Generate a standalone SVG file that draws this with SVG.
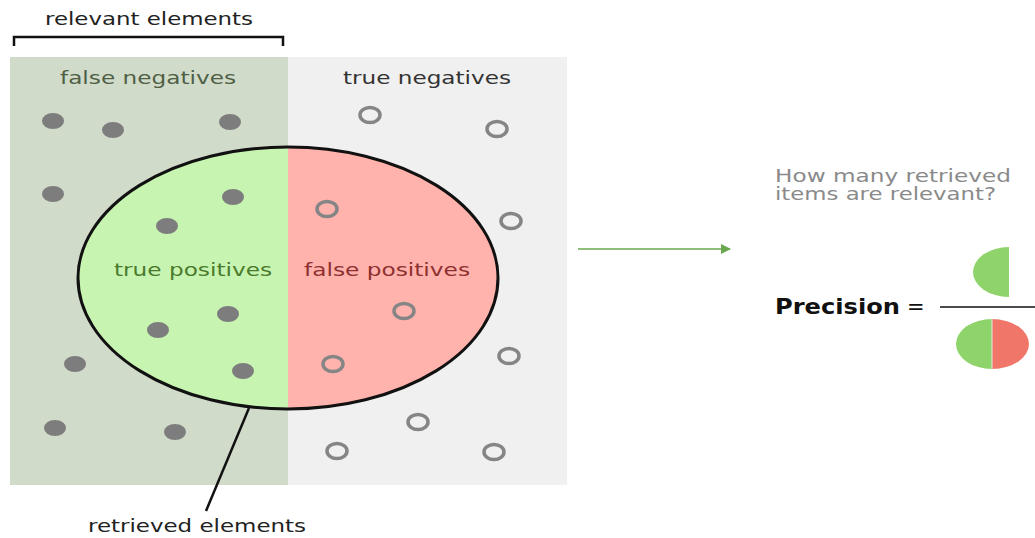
<svg xmlns="http://www.w3.org/2000/svg" width="1035" height="538" viewBox="0 0 1035 538">
<style>
text{font-family:"DejaVu Sans","Liberation Sans",sans-serif}
.lbl{font-size:18px;fill:#222}
.dot{fill:#7d7d7d}
.ring{fill:none;stroke:#858585;stroke-width:3.5}
</style>
<defs>
<marker id="ah" markerWidth="10" markerHeight="10" refX="9" refY="5" orient="auto" markerUnits="userSpaceOnUse"><path d="M0,0 L10,5 L0,10 z" fill="#6aa84f"/></marker>
<clipPath id="lc"><rect x="0" y="0" width="288" height="538"/></clipPath>
<clipPath id="rc"><rect x="288" y="0" width="400" height="538"/></clipPath>
</defs>
<g id="panels">
<rect x="10" y="57" width="278" height="428" fill="#d1dbca"/>
<rect x="288" y="57" width="279" height="428" fill="#f0f0f0"/>
</g>
<g id="bracket">
<path d="M14,46 V37 H283 V46" fill="none" stroke="#111" stroke-width="2.5"/>
<text class="lbl" x="149" y="25" text-anchor="middle" textLength="208" lengthAdjust="spacingAndGlyphs">relevant elements</text>
</g>
<text id="fn" x="148" y="84" text-anchor="middle" font-size="18" fill="#4f5f45" textLength="176" lengthAdjust="spacingAndGlyphs">false negatives</text>
<text id="tn" x="427" y="84" text-anchor="middle" font-size="18" fill="#333" textLength="168" lengthAdjust="spacingAndGlyphs">true negatives</text>
<g id="circle">
<ellipse cx="288" cy="278" rx="210" ry="131" fill="#c8f4b1" clip-path="url(#lc)"/>
<ellipse cx="288" cy="278" rx="210" ry="131" fill="#ffb3ac" clip-path="url(#rc)"/>
<ellipse cx="288" cy="278" rx="210" ry="131" fill="none" stroke="#111" stroke-width="3"/>
<text x="193" y="276" text-anchor="middle" font-size="18" fill="#4a7a2c" textLength="158" lengthAdjust="spacingAndGlyphs">true positives</text>
<text x="387" y="276" text-anchor="middle" font-size="18" fill="#8e3030" textLength="166" lengthAdjust="spacingAndGlyphs">false positives</text>
</g>
<g id="relevant-dots">
<ellipse class="dot" cx="53" cy="121" rx="11" ry="8"/>
<ellipse class="dot" cx="113" cy="130" rx="11" ry="8"/>
<ellipse class="dot" cx="230" cy="122" rx="11" ry="8"/>
<ellipse class="dot" cx="53" cy="194" rx="11" ry="8"/>
<ellipse class="dot" cx="233" cy="197" rx="11" ry="8"/>
<ellipse class="dot" cx="167" cy="226" rx="11" ry="8"/>
<ellipse class="dot" cx="158" cy="330" rx="11" ry="8"/>
<ellipse class="dot" cx="228" cy="314" rx="11" ry="8"/>
<ellipse class="dot" cx="243" cy="371" rx="11" ry="8"/>
<ellipse class="dot" cx="75" cy="364" rx="11" ry="8"/>
<ellipse class="dot" cx="55" cy="428" rx="11" ry="8"/>
<ellipse class="dot" cx="175" cy="432" rx="11" ry="8"/>
</g>
<g id="irrelevant-rings">
<ellipse class="ring" cx="370" cy="115" rx="10" ry="7.5"/>
<ellipse class="ring" cx="497" cy="129" rx="10" ry="7.5"/>
<ellipse class="ring" cx="327" cy="209" rx="10" ry="7.5"/>
<ellipse class="ring" cx="511" cy="221" rx="10" ry="7.5"/>
<ellipse class="ring" cx="404" cy="311" rx="10" ry="7.5"/>
<ellipse class="ring" cx="333" cy="364" rx="10" ry="7.5"/>
<ellipse class="ring" cx="509" cy="356" rx="10" ry="7.5"/>
<ellipse class="ring" cx="418" cy="422" rx="10" ry="7.5"/>
<ellipse class="ring" cx="337" cy="451" rx="10" ry="7.5"/>
<ellipse class="ring" cx="494" cy="452" rx="10" ry="7.5"/>
</g>
<g id="connectors">
<line x1="249" y1="408" x2="206" y2="511" stroke="#111" stroke-width="2.5"/>
<line x1="578" y1="249" x2="730" y2="249" stroke="#6aa84f" stroke-width="1.5" marker-end="url(#ah)"/>
</g>
<text id="retrieved" class="lbl" x="197" y="532" text-anchor="middle" textLength="218" lengthAdjust="spacingAndGlyphs">retrieved elements</text>
<g id="question">
<text x="775" y="182" font-size="17" fill="#8a8a8a" textLength="236" lengthAdjust="spacingAndGlyphs">How many retrieved</text>
<text x="775" y="200" font-size="17" fill="#8a8a8a" textLength="221" lengthAdjust="spacingAndGlyphs">items are relevant?</text>
</g>
<g id="precision">
<text x="775" y="314" font-size="21" font-weight="bold" fill="#111" textLength="125" lengthAdjust="spacingAndGlyphs">Precision</text>
<text x="907" y="314" font-size="21" fill="#111">=</text>
<line x1="940" y1="307" x2="1035" y2="307" stroke="#111" stroke-width="1.5"/>
<path d="M1009,247 A36,25 0 0 0 1009,297 Z" fill="#8fd46a"/>
<path d="M992,319 A36,25 0 0 0 992,369 Z" fill="#8fd46a"/>
<path d="M992,319 A37,25 0 0 1 992,369 Z" fill="#f0766a"/>
<line x1="992" y1="319" x2="992" y2="369" stroke="#e8e8e0" stroke-width="1"/>
</g>
</svg>
